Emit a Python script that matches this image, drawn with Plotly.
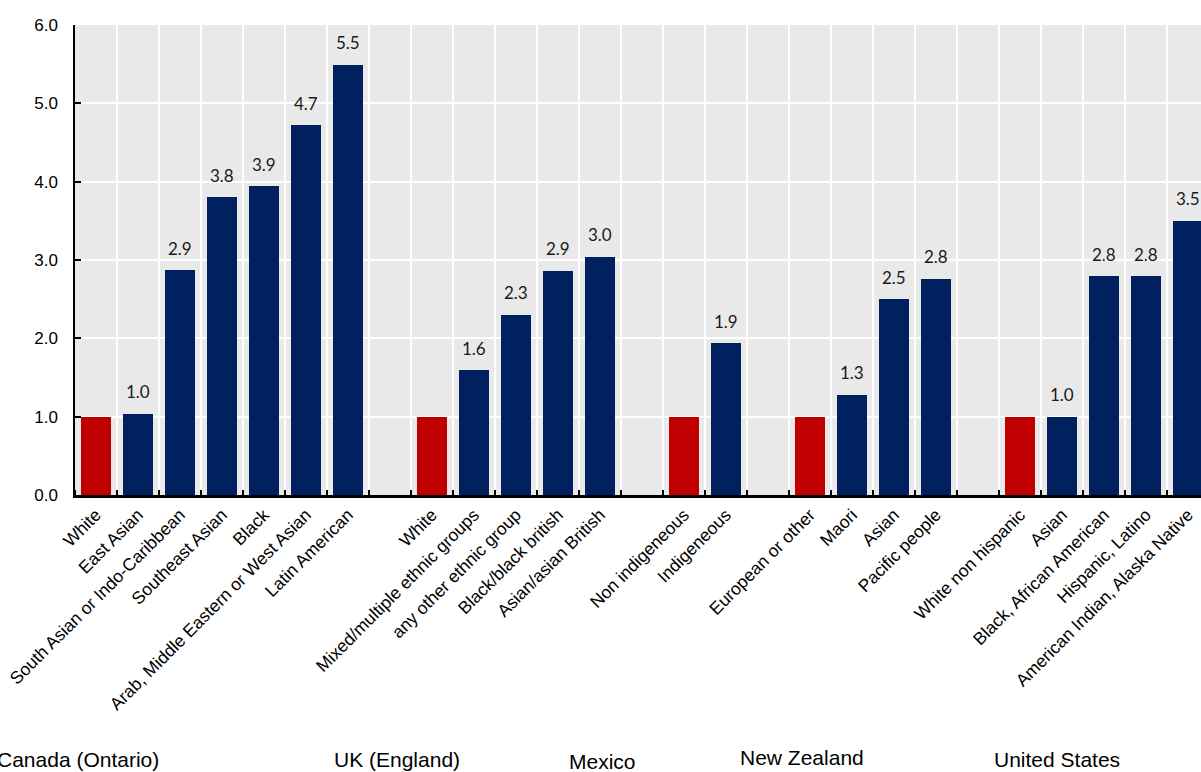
import plotly.graph_objects as go

# ---------------- data ----------------
groups = ["Canada (Ontario)", "UK (England)", "Mexico", "New Zealand", "United States"]

canada_labels = ["White", "East Asian", "South Asian or Indo-Caribbean", "Southeast Asian",
                 "Black", "Arab, Middle Eastern or West Asian", "Latin American"]
canada_values = [1.0, 1.04, 2.87, 3.80, 3.94, 4.72, 5.49]

uk_labels = ["White", "Mixed/multiple ethnic groups", "any other ethnic group",
             "Black/black british", "Asian/asian British"]
uk_values = [1.0, 1.59, 2.30, 2.86, 3.04]

mexico_labels = ["Non indigeneous", "Indigeneous"]
mexico_values = [1.0, 1.94]

nz_labels = ["European or other", "Maori", "Asian", "Pacific people"]
nz_values = [1.0, 1.28, 2.50, 2.76]

us_labels = ["White non hispanic", "Asian", "Black, African American", "Hispanic, Latino",
             "American Indian, Alaska Native"]
us_values = [1.0, 1.0, 2.79, 2.79, 3.50]

y_ticks = [0, 1, 2, 3, 4, 5, 6]

# ---------------- layout constants ----------------
NAVY = "#002060"
RED = "#C00000"
BG = "#E9E9E9"
W, H = 1201, 772
L_M, T_M = 75, 25
PLOT_BOTTOM = 495
SLOT_PX = 42.0

group_data = [(canada_labels, canada_values), (uk_labels, uk_values),
              (mexico_labels, mexico_values), (nz_labels, nz_values),
              (us_labels, us_values)]

# build positions: one empty slot between groups
xs, ys, texts, colors, ticktext = [], [], [], [], []
pos = 0
for gi, (labs, vals) in enumerate(group_data):
    for j, (lab, v) in enumerate(zip(labs, vals)):
        xs.append(pos)
        ys.append(v)
        ticktext.append(lab)
        colors.append(RED if j == 0 else NAVY)
        texts.append("" if j == 0 else f"{v:.1f}")
        pos += 1
    pos += 1

plot_w_px = W - L_M
x_max = -0.5 + plot_w_px / SLOT_PX

fig = go.Figure()
fig.add_trace(go.Bar(
    x=xs, y=ys, width=0.72,
    marker=dict(color=colors, line=dict(width=0)),
    hoverinfo="x+y", showlegend=False,
))

# data labels above the non-reference bars
for x, y, t in zip(xs, ys, texts):
    if t:
        fig.add_annotation(x=x, y=y, text=t, showarrow=False, xref="x", yref="y",
                           yanchor="middle", yshift=22,
                           font=dict(family="Lato", size=17, color="#1a1a1a"))

# group labels (pixel centres)
plot_h_px = PLOT_BOTTOM - T_M
group_label_px = [(78, 759), (397, 759), (602, 761), (802, 757), (1057, 759)]
for name, (px, py) in zip(groups, group_label_px):
    fig.add_annotation(x=(px - L_M) / plot_w_px, y=(PLOT_BOTTOM - py) / plot_h_px,
                       xref="paper", yref="paper", text=name, showarrow=False,
                       xanchor="center", yanchor="middle",
                       font=dict(family="Liberation Sans", size=21, color="#000000"))

fig.update_layout(
    width=W, height=H,
    margin=dict(l=L_M, r=0, t=T_M, b=H - PLOT_BOTTOM, pad=0),
    paper_bgcolor="white", plot_bgcolor=BG,
    bargap=0,
    font=dict(family="Liberation Sans", size=16, color="#000000"),
)
fig.update_xaxes(
    range=[-0.5, x_max],
    tickmode="array", tickvals=xs, ticktext=ticktext, tickangle=-45,
    ticks="", showgrid=False, zeroline=False,
    showline=True, linecolor="black", linewidth=2.5,
    tickfont=dict(family="Liberation Sans", size=17.5, color="#000000"),
    minor=dict(tickmode="linear", tick0=-0.5, dtick=1, ticks="inside", ticklen=5,
               tickcolor="black", tickwidth=1.5, showgrid=True,
               gridcolor="white", gridwidth=2),
)
fig.update_yaxes(
    range=[0, 6], tickmode="array", tickvals=y_ticks,
    ticktext=[f"{v:.1f}" for v in y_ticks],
    ticks="inside", ticklen=6, tickcolor="black", tickwidth=1.5,
    showgrid=True, gridcolor="white", gridwidth=2, zeroline=False,
    showline=True, linecolor="black", linewidth=1.5,
    tickfont=dict(family="Liberation Sans", size=17, color="#000000"),
    ticklabelstandoff=12,
)

fig.write_html("out.html")
